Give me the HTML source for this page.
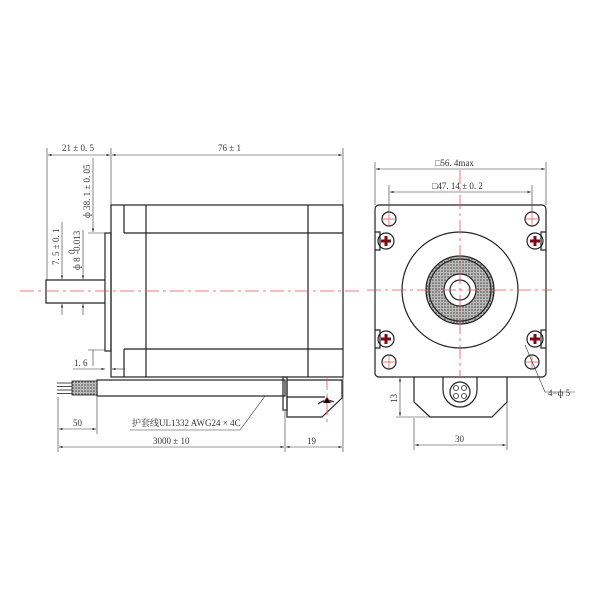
<!DOCTYPE html>
<html><head><meta charset="utf-8"><style>
html,body{margin:0;padding:0;background:#fff;}
svg{display:block;}
text{font-family:"Liberation Serif","Noto Serif CJK SC",serif;font-size:9px;fill:#333;}
</style></head><body>
<svg width="600" height="600" viewBox="0 0 600 600" xmlns="http://www.w3.org/2000/svg">
<defs>
<marker id="a" markerWidth="6" markerHeight="4" refX="6" refY="2" orient="auto-start-reverse"><path d="M0,0 L6,2 L0,4 z" fill="#333"/></marker>
<pattern id="hatch" width="3" height="3" patternUnits="userSpaceOnUse"><rect width="3" height="3" fill="#bbb"/><circle cx="1" cy="1" r="0.8" fill="#444"/></pattern>
</defs>
<g stroke="#222" stroke-width="1.2" fill="none">
<rect x="111" y="205" width="232" height="172"/>
<line x1="124" y1="205" x2="124" y2="233"/>
<line x1="124" y1="349" x2="124" y2="377"/>
<line x1="146" y1="205" x2="146" y2="377"/>
<line x1="308" y1="205" x2="308" y2="377"/>
<line x1="124" y1="233" x2="343" y2="233"/>
<line x1="124" y1="349" x2="343" y2="349"/>
<rect x="105" y="233" width="6" height="118"/>
<path d="M105,280 L46,280 L46,303 L105,303"/>
<rect x="97" y="380" width="188" height="16"/>
<rect x="72" y="381" width="25" height="14" fill="url(#hatch)" stroke-width="0.8"/>
<line x1="57" y1="383" x2="72" y2="383" stroke-width="0.8"/>
<line x1="57" y1="386.5" x2="72" y2="386.5" stroke-width="0.8"/>
<line x1="57" y1="390" x2="72" y2="390" stroke-width="0.8"/>
<line x1="57" y1="393.5" x2="72" y2="393.5" stroke-width="0.8"/>
<rect x="283" y="377" width="4" height="33"/>
<path d="M287,380 L342,380 L342,398 L322,417 L287,417 Z"/>
<line x1="287" y1="397" x2="325" y2="397"/>
<path d="M318,404 Q326,398 334,402"/>
<rect x="375" y="205" width="171" height="172" rx="4"/>
<circle cx="460" cy="290" r="58"/>
<circle cx="460" cy="290" r="34" fill="url(#hatch)"/>
<circle cx="460" cy="290" r="31"/>
<circle cx="460" cy="290" r="16" fill="#fff"/>
<circle cx="460" cy="290" r="10"/>
<circle cx="389" cy="219" r="7"/><circle cx="532" cy="219" r="7"/>
<circle cx="389" cy="362" r="7"/><circle cx="532" cy="362" r="7"/>
<path d="M375,232 L380,232 L380,250 L375,250"/>
<path d="M546,232 L541,232 L541,250 L546,250"/>
<path d="M375,330 L380,330 L380,348 L375,348"/>
<path d="M546,330 L541,330 L541,348 L546,348"/>
<circle cx="386" cy="241" r="8"/><circle cx="535" cy="241" r="8"/>
<circle cx="386" cy="339" r="8"/><circle cx="535" cy="339" r="8"/>
<path d="M414,377 L414,402 L430,417 L492,417 L507,402 L507,377"/>
<path d="M443,377 L443,390 A17,17 0 0 0 477,390 L477,377"/>
<circle cx="460" cy="392" r="10"/>
</g>
<g stroke="#7a0a14" stroke-width="3">
<path d="M381,241 h10 M386,236 v10"/><path d="M530,241 h10 M535,236 v10"/>
<path d="M381,339 h10 M386,334 v10"/><path d="M530,339 h10 M535,334 v10"/>
</g>
<g fill="none" stroke="#222" stroke-width="0.8">
<circle cx="456" cy="388" r="2.5"/><circle cx="464" cy="388" r="2.5"/>
<circle cx="456" cy="396" r="2.5"/><circle cx="464" cy="396" r="2.5"/>
</g>
<g stroke="#e8505a" stroke-width="0.8" stroke-dasharray="14,4,3,4" fill="none">
<line x1="20" y1="291" x2="360" y2="291"/>
<line x1="367" y1="290" x2="552" y2="290"/>
<line x1="460" y1="170" x2="460" y2="378"/>
<line x1="327" y1="376" x2="327" y2="425"/>
</g>
<g stroke="#e8505a" stroke-width="0.7">
<path d="M382,219 h14 M389,212 v14 M525,219 h14 M532,212 v14 M382,362 h14 M389,355 v14 M525,362 h14 M532,355 v14"/>
<path d="M323,403 L327,397 L331,403"/>
</g>
<g stroke="#333" stroke-width="0.6" fill="none">
<line x1="47" y1="148" x2="47" y2="280"/>
<line x1="111" y1="148" x2="111" y2="205"/>
<line x1="343" y1="148" x2="343" y2="205"/>
<line x1="48" y1="155" x2="110" y2="155" marker-start="url(#a)" marker-end="url(#a)"/>
<line x1="112" y1="155" x2="342" y2="155" marker-start="url(#a)" marker-end="url(#a)"/>
<line x1="93" y1="158" x2="93" y2="232" marker-end="url(#a)"/>
<line x1="93" y1="350" x2="93" y2="366"/>
<line x1="88" y1="233" x2="105" y2="233"/>
<line x1="88" y1="350" x2="105" y2="350"/>
<line x1="62" y1="222" x2="62" y2="279" marker-end="url(#a)"/>
<line x1="62" y1="304" x2="62" y2="315" marker-start="url(#a)"/>
<line x1="83" y1="230" x2="83" y2="279" marker-end="url(#a)"/>
<line x1="83" y1="304" x2="83" y2="315" marker-start="url(#a)"/>
<line x1="73" y1="369" x2="105" y2="369" marker-end="url(#a)"/>
<line x1="125" y1="369" x2="112" y2="369" marker-end="url(#a)"/>
<line x1="58" y1="397" x2="58" y2="452"/>
<line x1="97" y1="397" x2="97" y2="434"/>
<line x1="285" y1="411" x2="285" y2="452"/>
<line x1="343" y1="377" x2="343" y2="452"/>
<line x1="59" y1="429" x2="96" y2="429" marker-start="url(#a)" marker-end="url(#a)"/>
<line x1="59" y1="447" x2="284" y2="447" marker-start="url(#a)" marker-end="url(#a)"/>
<line x1="286" y1="447" x2="342" y2="447" marker-start="url(#a)" marker-end="url(#a)"/>
<path d="M130,430 L240,430 L265,396" />
<line x1="375" y1="162" x2="375" y2="205"/>
<line x1="546" y1="162" x2="546" y2="205"/>
<line x1="376" y1="169" x2="545" y2="169" marker-start="url(#a)" marker-end="url(#a)"/>
<line x1="389" y1="185" x2="389" y2="212"/>
<line x1="532" y1="185" x2="532" y2="212"/>
<line x1="390" y1="192" x2="531" y2="192" marker-start="url(#a)" marker-end="url(#a)"/>
<line x1="396" y1="377" x2="414" y2="377"/>
<line x1="396" y1="417" x2="430" y2="417"/>
<line x1="400" y1="378" x2="400" y2="416" marker-start="url(#a)" marker-end="url(#a)"/>
<line x1="414" y1="418" x2="414" y2="450"/>
<line x1="507" y1="403" x2="507" y2="450"/>
<line x1="415" y1="445" x2="506" y2="445" marker-start="url(#a)" marker-end="url(#a)"/>
<path d="M525,345 L545,392 L575,392"/>
</g>
<text x="62" y="151">21 ± 0. 5</text>
<text x="218" y="151">76 ± 1</text>
<text transform="translate(90,218) rotate(-90)">ф 38. 1 ± 0. 05</text>
<text transform="translate(59,265) rotate(-90)">7. 5 ± 0. 1</text>
<text transform="translate(80,270) rotate(-90)">ф 8</text>
<text transform="translate(75,254) rotate(-90)" font-size="5.5">0</text>
<text transform="translate(80,254) rotate(-90)" font-size="5.5">-0.013</text>
<text x="74" y="366">1. 6</text>
<text x="73" y="426">50</text>
<text x="153" y="444">3000 ± 10</text>
<text x="307" y="444">19</text>
<text x="132" y="426">护套线UL1332  AWG24 × 4C</text>
<text x="435" y="166">□56. 4max</text>
<text x="432" y="189">□47. 14 ± 0. 2</text>
<text transform="translate(397,403) rotate(-90)">13</text>
<text x="455" y="442">30</text>
<text x="548" y="396">4−ф 5</text>
</svg>
</body></html>
